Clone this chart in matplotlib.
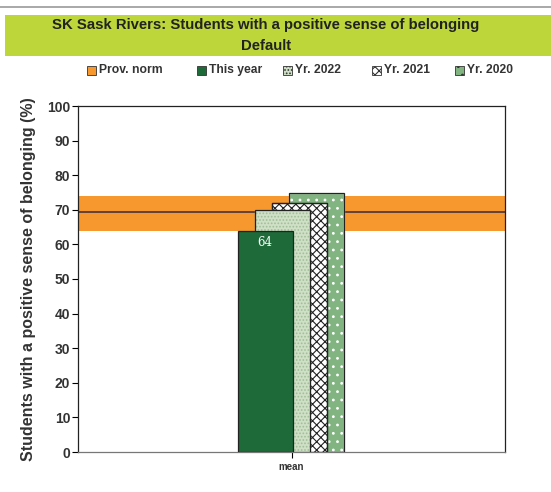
import matplotlib.pyplot as plt
from matplotlib.patches import Rectangle
from matplotlib.lines import Line2D

plt.rcParams['font.family'] = ['Liberation Sans', 'DejaVu Sans']
plt.rcParams['hatch.linewidth'] = 0.8

# survey results
series = ['This year', 'Yr. 2022', 'Yr. 2021', 'Yr. 2020']
values = [64, 70, 72, 75]
norm_value = 69.5
norm_low = 64
norm_high = 74
category = 'mean'

faces = ['#1e6a38', '#cfe0c6', '#ffffff', '#82b482']
hatches = [None, '.....', 'xxxx', '..']
hatch_cols = [None, '#9fbf98', '#222222', '#ffffff']

fig = plt.figure(figsize=(5.51, 4.92), dpi=100)

# title banner
fig.add_artist(Line2D([0.0, 1.0], [1 - 7/492, 1 - 7/492], color='#9a9a9a', lw=1.2))
fig.add_artist(Rectangle((5/551, 1 - 56/492), 546/551, 41/492, color='#bdd63a', lw=0))
fig.text(0.482, 1 - 25/492, 'SK Sask Rivers: Students with a positive sense of belonging',
         ha='center', va='center', fontsize=10.7, fontweight='bold', color='#222222')
fig.text(0.482, 1 - 46/492, 'Default', ha='center', va='center',
         fontsize=10.7, fontweight='bold', color='#222222')

ax = fig.add_axes([78/551, 40/492, 427/551, 346/492])

# provincial norm band and line
ax.axhspan(norm_low, norm_high, color='#f7982e', lw=0, zorder=0)
ax.axhline(norm_value, color='#3a2a3a', lw=1.1, zorder=1)

width = 0.55
step = 0.17
xs = [-0.265 + i * step for i in range(len(values))]
for i in reversed(range(len(values))):
    b = ax.bar(xs[i], values[i], width=width, color=faces[i], edgecolor='#222222',
               lw=0.9, zorder=2 + len(values) - i)
    if hatches[i]:
        b[0].set_hatch(hatches[i])
        b[0].set_edgecolor(hatch_cols[i])
        ax.bar(xs[i], values[i], width=width, fill=False, edgecolor='#222222',
               lw=0.9, zorder=2 + len(values) - i)

ax.text(xs[0], values[0] - 1.5, str(values[0]), ha='center', va='top', color='white',
        fontsize=8.5, family='DejaVu Serif', zorder=10)

ax.set_xlim(-2.135, 2.135)
ax.set_ylim(0, 100)
ax.set_yticks(range(0, 101, 10))
ax.set_xticks([0])
ax.set_xticklabels([category], fontsize=7, fontweight='bold', color='#333333')
for lab in ax.get_yticklabels():
    lab.set_fontweight('bold')
    lab.set_color('#333333')
ax.tick_params(axis='y', labelsize=10, length=4.5, width=0.8, pad=1)
ax.tick_params(axis='x', length=4, width=0.8)
for s in ax.spines.values():
    s.set_linewidth(0.9)
    s.set_color('#222222')
ax.spines['bottom'].set_color('#777777')
ax.set_ylabel('Students with a positive sense of belonging (%)', fontsize=11.5,
              fontweight='bold', color='#333333', labelpad=8)

# legend row
leg_labels = ['Prov. norm'] + series
leg_faces = ['#f7982e'] + faces
leg_hatch = [None] + hatches
leg_x = [87, 197, 283, 372, 455]
ly = 1 - 70/492
for i, lab in enumerate(leg_labels):
    x0 = leg_x[i] / 551
    r = Rectangle((x0, ly - 4.5/492), 9/551, 9/492, facecolor=leg_faces[i],
                  edgecolor='#333333', lw=0.6, transform=fig.transFigure)
    if leg_hatch[i]:
        r.set_hatch(leg_hatch[i])
    fig.add_artist(r)
    fig.text(x0 + 12/551, ly, lab, ha='left', va='center', fontsize=8.7,
             fontweight='bold', color='#333333')

fig.savefig('out.png', dpi=100)
